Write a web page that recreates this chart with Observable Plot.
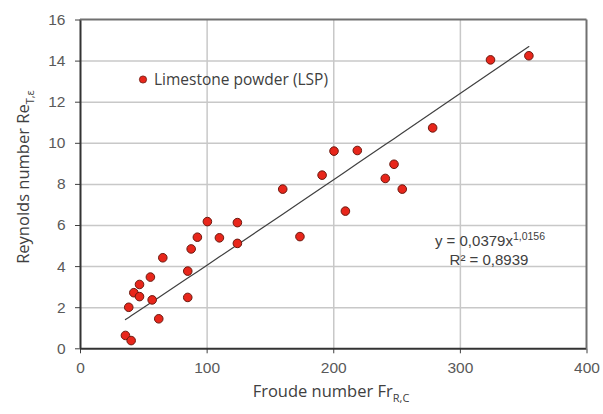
<!DOCTYPE html>
<html>
<head>
<meta charset="utf-8">
<script src="https://cdn.jsdelivr.net/npm/d3@7"></script>
<script src="https://cdn.jsdelivr.net/npm/@observablehq/plot@0.6"></script>
<style>
  html, body { margin: 0; padding: 0; background: #ffffff; }
  #chart { width: 603px; height: 414px; }
</style>
</head>
<body>
<div id="chart"></div>
<script>
// Froude number Fr_R,C (x) and Reynolds number Re_T,ε (y), limestone powder (LSP)
const froude = [35.5, 40.0, 38.1, 42.1, 46.6, 46.6, 55.2, 56.6, 61.8, 65.0,
                84.7, 84.7, 87.4, 92.3, 100.2, 109.7, 123.9, 123.9, 173.3, 159.7,
                190.8, 200.2, 218.6, 209.2, 240.7, 247.6, 254.1, 278.1, 323.8, 354.1];
const reynolds = [0.65, 0.40, 2.02, 2.73, 2.54, 3.13, 3.49, 2.38, 1.46, 4.43,
                  2.50, 3.78, 4.86, 5.43, 6.19, 5.40, 6.14, 5.13, 5.46, 7.77,
                  8.45, 9.62, 9.65, 6.70, 8.29, 8.98, 7.77, 10.75, 14.06, 14.26];
const xTicks = [0, 100, 200, 300, 400];
const yTicks = [0, 2, 4, 6, 8, 10, 12, 14, 16];
const gridXTicks = [100, 200, 300];
const gridYTicks = [2, 4, 6, 8, 10, 12, 14];
const seriesName = "Limestone powder (LSP)";
// Power trendline shown on the chart: y = a * x^b
const fitA = 0.0379;
const fitB = 1.0156;
const fitR2 = "0,8939";
const eqMain = "y = 0,0379x";
const eqExp = "1,0156";

const points = froude.map((f, i) => ({ x: f, y: reynolds[i] }));
const fitLine = froude.slice().sort((a, b) => a - b).map(x => ({ x, y: fitA * Math.pow(x, fitB) }));

const W = 603, H = 414;
const plot = Plot.plot({
  width: W,
  height: H,
  marginLeft: 80,
  marginRight: 16.5,
  marginTop: 19.5,
  marginBottom: 65.7,
  style: { fontFamily: "'Liberation Sans', Arial, sans-serif", fontSize: "15.5px", color: "#595959", background: "#ffffff" },
  x: { domain: [0, 400], label: null },
  y: { domain: [0, 16], label: null },
  marks: [
    Plot.ruleX(gridXTicks, { stroke: "#c8c8c8", strokeWidth: 1.5 }),
    Plot.ruleY(gridYTicks, { stroke: "#c8c8c8", strokeWidth: 1.5 }),
    Plot.axisX(xTicks, { tickSize: 5, tickPadding: 8, stroke: "#404040", fill: "#595959", label: null }),
    Plot.axisY(yTicks, { tickSize: 5, tickPadding: 10, stroke: "#404040", fill: "#595959", label: null }),
    Plot.ruleY([0], { stroke: "#333333", strokeWidth: 2 }),
    Plot.ruleX([0], { stroke: "#333333", strokeWidth: 2 }),
    Plot.line(fitLine, { x: "x", y: "y", stroke: "#404040", strokeWidth: 1.2 }),
    Plot.dot(points, { x: "x", y: "y", r: 4.3, fill: "#e8261b", stroke: "#6b1a10", strokeWidth: 1, symbol: "circle" })
  ]
});
document.getElementById("chart").appendChild(plot);

const svg = d3.select(plot);
const titleFont = "'Open Sans', 'Noto Sans', sans-serif";

// Top and right borders of the plot area (drawn as separate lines)
svg.append("line").attr("x1", 80).attr("x2", 586.5).attr("y1", 19.5).attr("y2", 19.5)
  .attr("stroke", "#707070").attr("stroke-width", 2);
svg.append("line").attr("x1", 586.5).attr("x2", 586.5).attr("y1", 19.5).attr("y2", 348.3)
  .attr("stroke", "#707070").attr("stroke-width", 2);

// Legend
svg.append("circle").attr("cx", 143).attr("cy", 79.5).attr("r", 3.6)
  .attr("fill", "#e8261b").attr("stroke", "#6b1a10").attr("stroke-width", 0.8);
svg.append("text").attr("x", 154).attr("y", 79.5).attr("dy", "0.35em").attr("text-anchor", "start")
  .attr("font-family", titleFont).attr("font-size", 15.5).attr("fill", "#404040")
  .text(seriesName);

// Equation annotation
const eq1 = svg.append("text").attr("x", 490).attr("y", 246).attr("text-anchor", "middle")
  .attr("font-family", "'Liberation Sans', Arial, sans-serif").attr("font-size", 15).attr("fill", "#404040");
eq1.append("tspan").text(eqMain);
eq1.append("tspan").attr("dy", -6).attr("font-size", 10.5).text(eqExp);
svg.append("text").attr("x", 489).attr("y", 265).attr("text-anchor", "middle")
  .attr("font-family", "'Liberation Sans', Arial, sans-serif").attr("font-size", 15).attr("fill", "#404040")
  .text("R² = " + fitR2);

// X axis title
const xt = svg.append("text").attr("x", 331).attr("y", 397).attr("text-anchor", "middle")
  .attr("font-family", titleFont).attr("font-size", 16.5).attr("fill", "#404040");
xt.append("tspan").text("Froude number Fr");
xt.append("tspan").attr("dy", 5).attr("font-size", 11).text("R,C");

// Y axis title
const yt = svg.append("text").attr("transform", "translate(29,177) rotate(-90)").attr("text-anchor", "middle")
  .attr("font-family", titleFont).attr("font-size", 16.5).attr("fill", "#404040");
yt.append("tspan").text("Reynolds number Re");
yt.append("tspan").attr("dy", 5).attr("font-size", 11).text("T,ε");
</script>
</body>
</html>
